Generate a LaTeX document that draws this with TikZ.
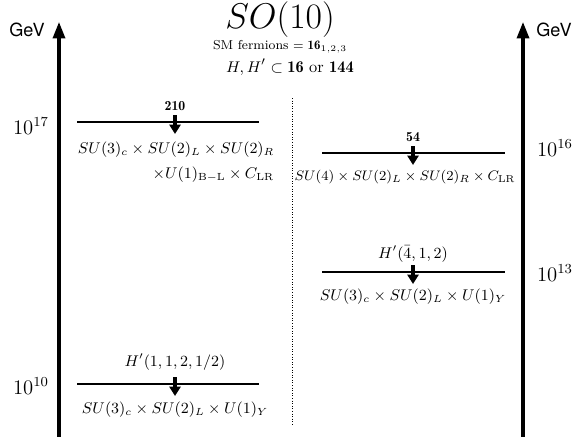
\documentclass[tikz,border=0pt]{standalone}
\usepackage{amsmath}
\usepackage{fontspec}
\newfontfamily\gevfont{TeX Gyre Heros}
\usetikzlibrary{arrows.meta}
\begin{document}
\begin{tikzpicture}[x=0.58pt,y=-0.58pt,
  axis/.style={line width=1.8pt,-{Triangle[width=7pt,length=9.5pt]}},
  bar/.style={line width=0.6pt},
  brk/.style={line width=1.8pt,-{Triangle[width=6.5pt,length=5.5pt]}},
  sep/.style={line width=0.5pt,densely dotted},
  gev/.style={font=\fontsize{10.5}{12}\gevfont, inner sep=0pt},
  lab/.style={inner sep=0pt, font=\fontsize{9}{11}\selectfont},
  rep/.style={inner sep=0pt, font=\fontsize{8}{9}\selectfont},
  scl/.style={inner sep=0pt, font=\fontsize{12}{14}\selectfont}]
\useasboundingbox (0,0) rectangle (581,436);
% axes
\coordinate (axLb) at (59,437);
\coordinate (axLt) at (59,22);
\coordinate (axRb) at (523,437);
\coordinate (axRt) at (523,22);
\draw[axis] (axLb) -- (axLt);
\draw[axis] (axRb) -- (axRt);
\node[gev] (gevL) at (27,30) {GeV};
\node[gev] (gevR) at (554,30) {GeV};
% title
\node[inner sep=0pt, font=\fontsize{22}{26}\selectfont] (title) at (280,20) {$SO(10)$};
\node[inner sep=0pt, font=\fontsize{7.5}{9}\selectfont] (sm) at (280,47) {SM fermions $=\mathbf{16}_{1,2,3}$};
\node[inner sep=0pt, font=\fontsize{9.5}{11}\selectfont] (hh) at (290,67) {$H,H'\subset\mathbf{16}$ or $\mathbf{144}$};
% separator
\coordinate (sepT) at (292,98);
\coordinate (sepB) at (292,425);
\draw[sep] (sepT) -- (sepB);
% scales
\node[scl] (s17) at (31,126) {$10^{17}$};
\node[scl] (s16) at (555,148) {$10^{16}$};
\node[scl] (s13) at (555,273) {$10^{13}$};
\node[scl] (s10) at (31,386) {$10^{10}$};
% breaking 1 (left, 10^17)
\coordinate (b1l) at (77,122);
\coordinate (b1r) at (259,122);
\draw[bar] (b1l) -- (b1r);
\coordinate (a1s) at (175,115);
\coordinate (a1e) at (175,134);
\draw[brk] (a1s) -- (a1e);
\node[rep] (r1) at (175,106) {$\mathbf{210}$};
\node[lab] (g1a) at (176,150) {$SU(3)_c\times SU(2)_L\times SU(2)_R$};
\node[lab, anchor=east] (g1b) at (g1a.east |- 0,175) {$\times U(1)_{\mathrm{B-L}}\times C_{\mathrm{LR}}$};
% breaking 2 (right, 10^16)
\coordinate (b2l) at (322,153);
\coordinate (b2r) at (505,153);
\draw[bar] (b2l) -- (b2r);
\coordinate (a2s) at (413,146);
\coordinate (a2e) at (413,165);
\draw[brk] (a2s) -- (a2e);
\node[rep] (r2) at (413,137) {$\mathbf{54}$};
\node[lab, font=\fontsize{8.3}{10}\selectfont] (g2) at (405,177) {$SU(4)\times SU(2)_L\times SU(2)_R\times C_{\mathrm{LR}}$};
% breaking 3 (right, 10^13)
\coordinate (b3l) at (322,272);
\coordinate (b3r) at (505,272);
\draw[bar] (b3l) -- (b3r);
\coordinate (a3s) at (413,265);
\coordinate (a3e) at (413,284);
\draw[brk] (a3s) -- (a3e);
\node[lab] (r3) at (413,254) {$H'(\bar{4},1,2)$};
\node[lab] (g3) at (413,297) {$SU(3)_c\times SU(2)_L\times U(1)_Y$};
% breaking 4 (left, 10^10)
\coordinate (b4l) at (77,384);
\coordinate (b4r) at (259,384);
\draw[bar] (b4l) -- (b4r);
\coordinate (a4s) at (175,377);
\coordinate (a4e) at (175,396);
\draw[brk] (a4s) -- (a4e);
\node[lab] (r4) at (175,362) {$H'(1,1,2,1/2)$};
\node[lab] (g4) at (175,410) {$SU(3)_c\times SU(2)_L\times U(1)_Y$};
\end{tikzpicture}
\end{document}
